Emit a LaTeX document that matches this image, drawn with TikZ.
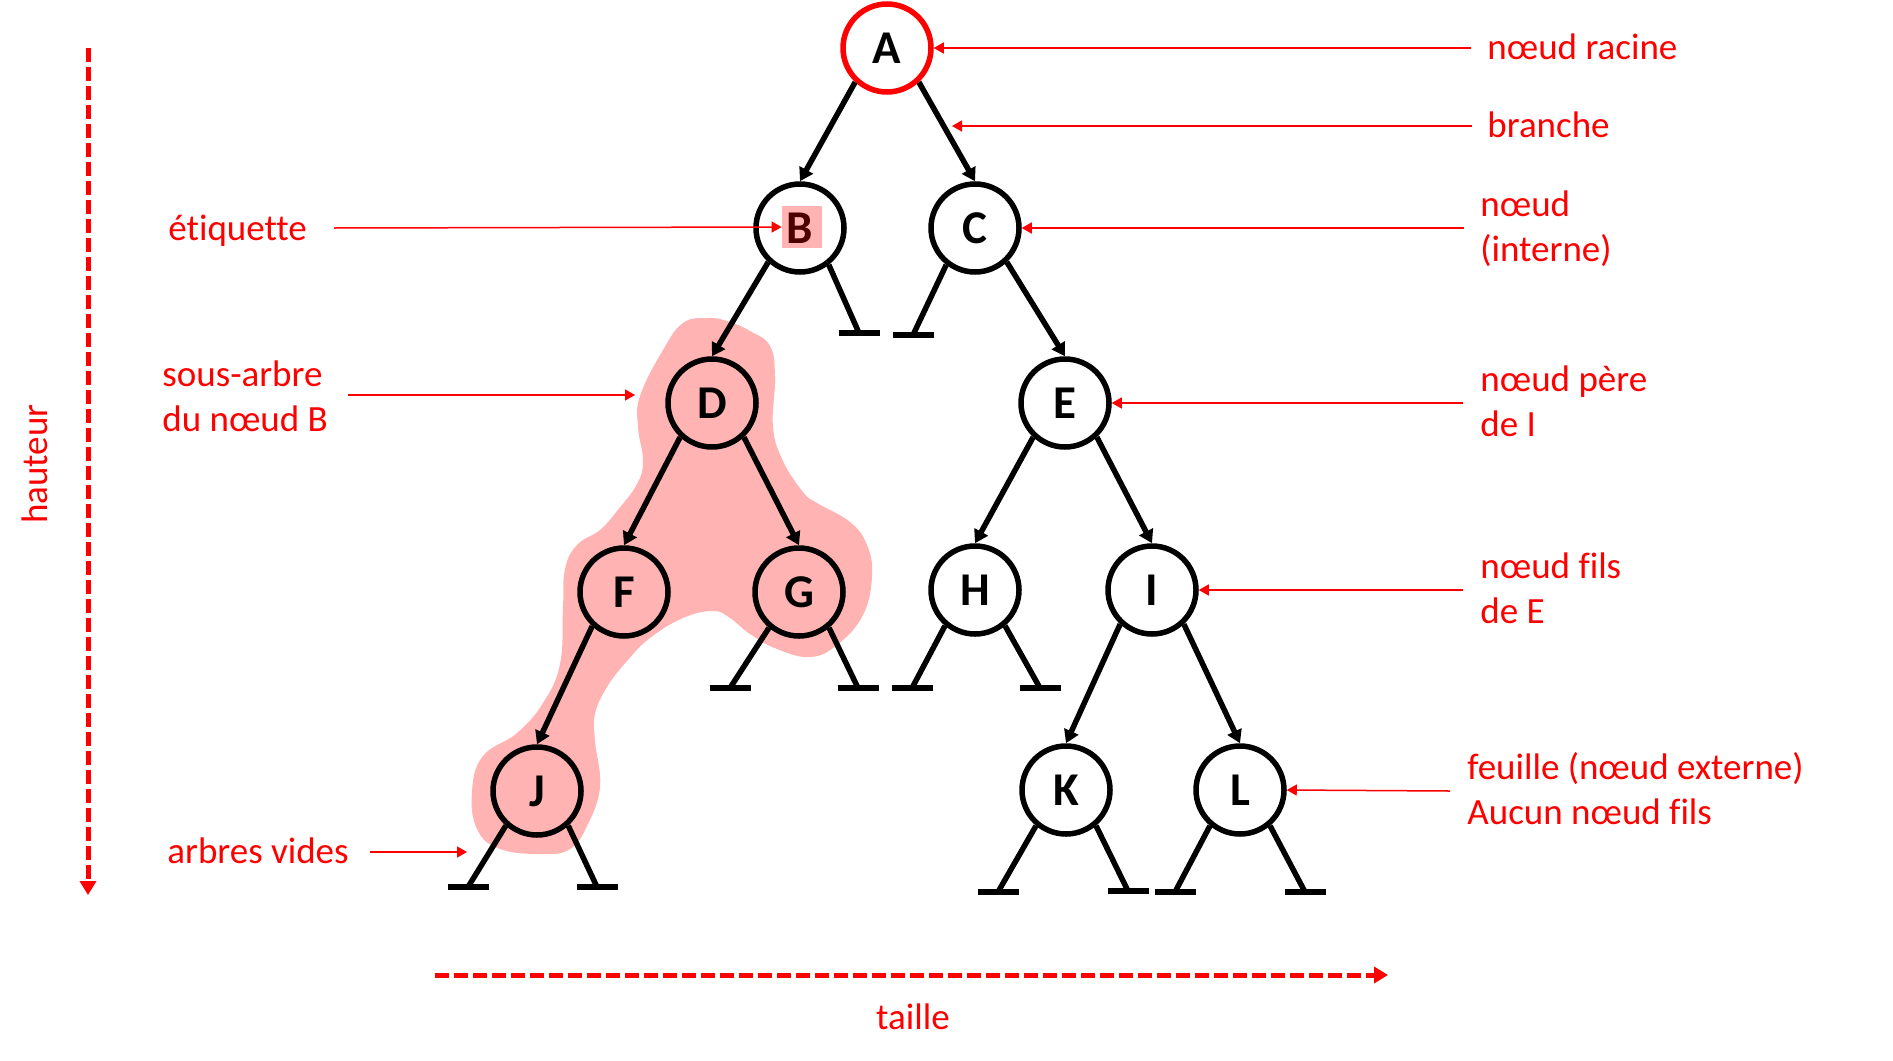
\documentclass[tikz,border=0pt]{standalone}
\usepackage{fontspec}
\setmainfont{Carlito}[Ligatures=NoCommon]
\usetikzlibrary{arrows.meta}
\definecolor{rd}{RGB}{255,0,0}
\definecolor{pk}{RGB}{255,179,179}
\definecolor{dk}{RGB}{77,0,0}
\begin{document}
\begin{tikzpicture}[x=0.5pt,y=-0.5pt,
  tn/.style={circle,draw=black,line width=2.75pt,minimum size=44pt,inner sep=0pt,
    font=\fontsize{23.5}{28}\selectfont\bfseries},
  lbl/.style={text=rd,font=\fontsize{18.5}{22.5}\selectfont,inner sep=0pt,anchor=base west,align=left},
  br/.style={line width=2.75pt,-{Triangle[length=6.5pt,width=7.5pt]}},
  stub/.style={line width=2.75pt},
  ann/.style={draw=rd,line width=0.75pt,-{Triangle[length=5pt,width=5.5pt]}},
  dsh/.style={draw=rd,line width=2.5pt,dash pattern=on 7pt off 2.5pt,-{Triangle[length=7pt,width=8pt]}}
]
\useasboundingbox (0,0) rectangle (1893,1060);
% pink subtree blob
\fill[pk] plot[smooth cycle,tension=0.7] coordinates {
(707,318) (683,323) (663,350) (640,396) (638,427) (643,461) (637,484) (617,511)
(600,530) (577,545) (565,569) (563,607) (560,664) (543,703) (517,733) (483,756)
(472,791) (477,829) (500,849) (543,854) (570,849) (587,826) (600,787) (595,741)
(595,714) (607,687) (627,661) (650,638) (683,618) (713,611) (730,618) (750,634)
(777,649) (810,657) (837,645) (863,615) (872,576) (867,545) (850,522) (817,503)
(803,492) (783,461) (773,427) (775,377) (770,346) (750,331) (727,321)};
% label box of B
\node[fill=pk,minimum width=20pt,minimum height=21pt,inner sep=0pt] (Bbox) at (802,227) {};
% tree nodes
\node[tn,draw=rd] (A) at (887,48) {A};
\node[tn,text=dk] (B) at (800,228) {B};
\node[tn] (C) at (975,228) {C};
\node[tn] (D) at (712,403) {D};
\node[tn] (E) at (1065,403) {E};
\node[tn] (F) at (624,592) {F};
\node[tn] (G) at (799,592) {G};
\node[tn] (H) at (975,590) {H};
\node[tn] (I) at (1152,590) {I};
\node[tn] (J) at (537,791) {J};
\node[tn] (K) at (1066,790) {K};
\node[tn] (L) at (1240,790) {L};
% branches
\draw[br] (A.227) -- (B.north);
\draw[br] (A.313) -- (C.north);
\draw[br] (B.227) -- (D.north);
\draw[br] (C.313) -- (E.north);
\draw[br] (D.227) -- (F.north);
\draw[br] (D.313) -- (G.north);
\draw[br] (E.227) -- (H.north);
\draw[br] (E.313) -- (I.north);
\draw[br] (F.227) -- (J.north);
\draw[br] (I.227) -- (K.north);
\draw[br] (I.313) -- (L.north);
% empty trees
\coordinate (Br) at (859,333);
\coordinate (Cl) at (913,335);
\coordinate (Gl) at (730,688);
\coordinate (Gr) at (858,688);
\coordinate (Hl) at (912,688);
\coordinate (Hr) at (1040,688);
\coordinate (Jl) at (468,887);
\coordinate (Jr) at (597,887);
\coordinate (Kl) at (998,892);
\coordinate (Kr) at (1128,891);
\coordinate (Ll) at (1175,892);
\coordinate (Lr) at (1305,892);
\foreach \p/\s/\a in {B/Br/308,C/Cl/232,G/Gl/230,G/Gr/310,H/Hl/230,H/Hr/310,J/Jl/228,J/Jr/312,K/Kl/230,K/Kr/310,L/Ll/230,L/Lr/310}{
  \draw[stub] (\p.\a) -- (\s);
  \draw[stub] ([xshift=-10.25pt]\s) -- ([xshift=10.25pt]\s);
}
% annotations right
\coordinate (aA) at (1471,48);
\node[lbl] (tA) at (1487,59) {nœud racine};
\draw[ann] (aA) -- (A.east);
\coordinate (aBr) at (1472,126);
\coordinate (tipBr) at (952,126);
\node[lbl] (tBr) at (1487,137) {branche};
\draw[ann] (aBr) -- (tipBr);
\coordinate (aC) at (1464,228);
\node[lbl] (tC) at (1480,261) {nœud\\(interne)};
\draw[ann] (aC) -- (C.east);
\coordinate (aE) at (1463,403);
\node[lbl] (tE) at (1480,436) {nœud père\\de I};
\draw[ann] (aE) -- (E.east);
\coordinate (aI) at (1463,590);
\node[lbl] (tI) at (1480,623) {nœud fils\\de E};
\draw[ann] (aI) -- (I.east);
\coordinate (aL) at (1450,791);
\node[lbl] (tL) at (1467,824) {feuille (nœud externe)\\Aucun nœud fils};
\draw[ann] (aL) -- (L.east);
% annotations left
\coordinate (aEt) at (334,228);
\node[lbl] (tEt) at (168,240) {étiquette};
\draw[ann] (aEt) -- (Bbox.west);
\coordinate (aS) at (348,395);
\coordinate (tipS) at (635,395);
\node[lbl] (tS) at (162,431) {sous-arbre\\du nœud B};
\draw[ann] (aS) -- (tipS);
\coordinate (aV) at (370,852);
\coordinate (tipV) at (467,852);
\node[lbl] (tV) at (167,863) {arbres vides};
\draw[ann] (aV) -- (tipV);
% height and size
\coordinate (h1) at (88,48);
\coordinate (h2) at (88,895);
\draw[dsh] (h1) -- (h2);
\node[lbl,rotate=90,anchor=base] (th) at (47,464) {hauteur};
\coordinate (w1) at (435,975);
\coordinate (w2) at (1388,975);
\draw[dsh] (w1) -- (w2);
\node[lbl,anchor=base] (tw) at (913,1029) {taille};
\end{tikzpicture}
\end{document}
